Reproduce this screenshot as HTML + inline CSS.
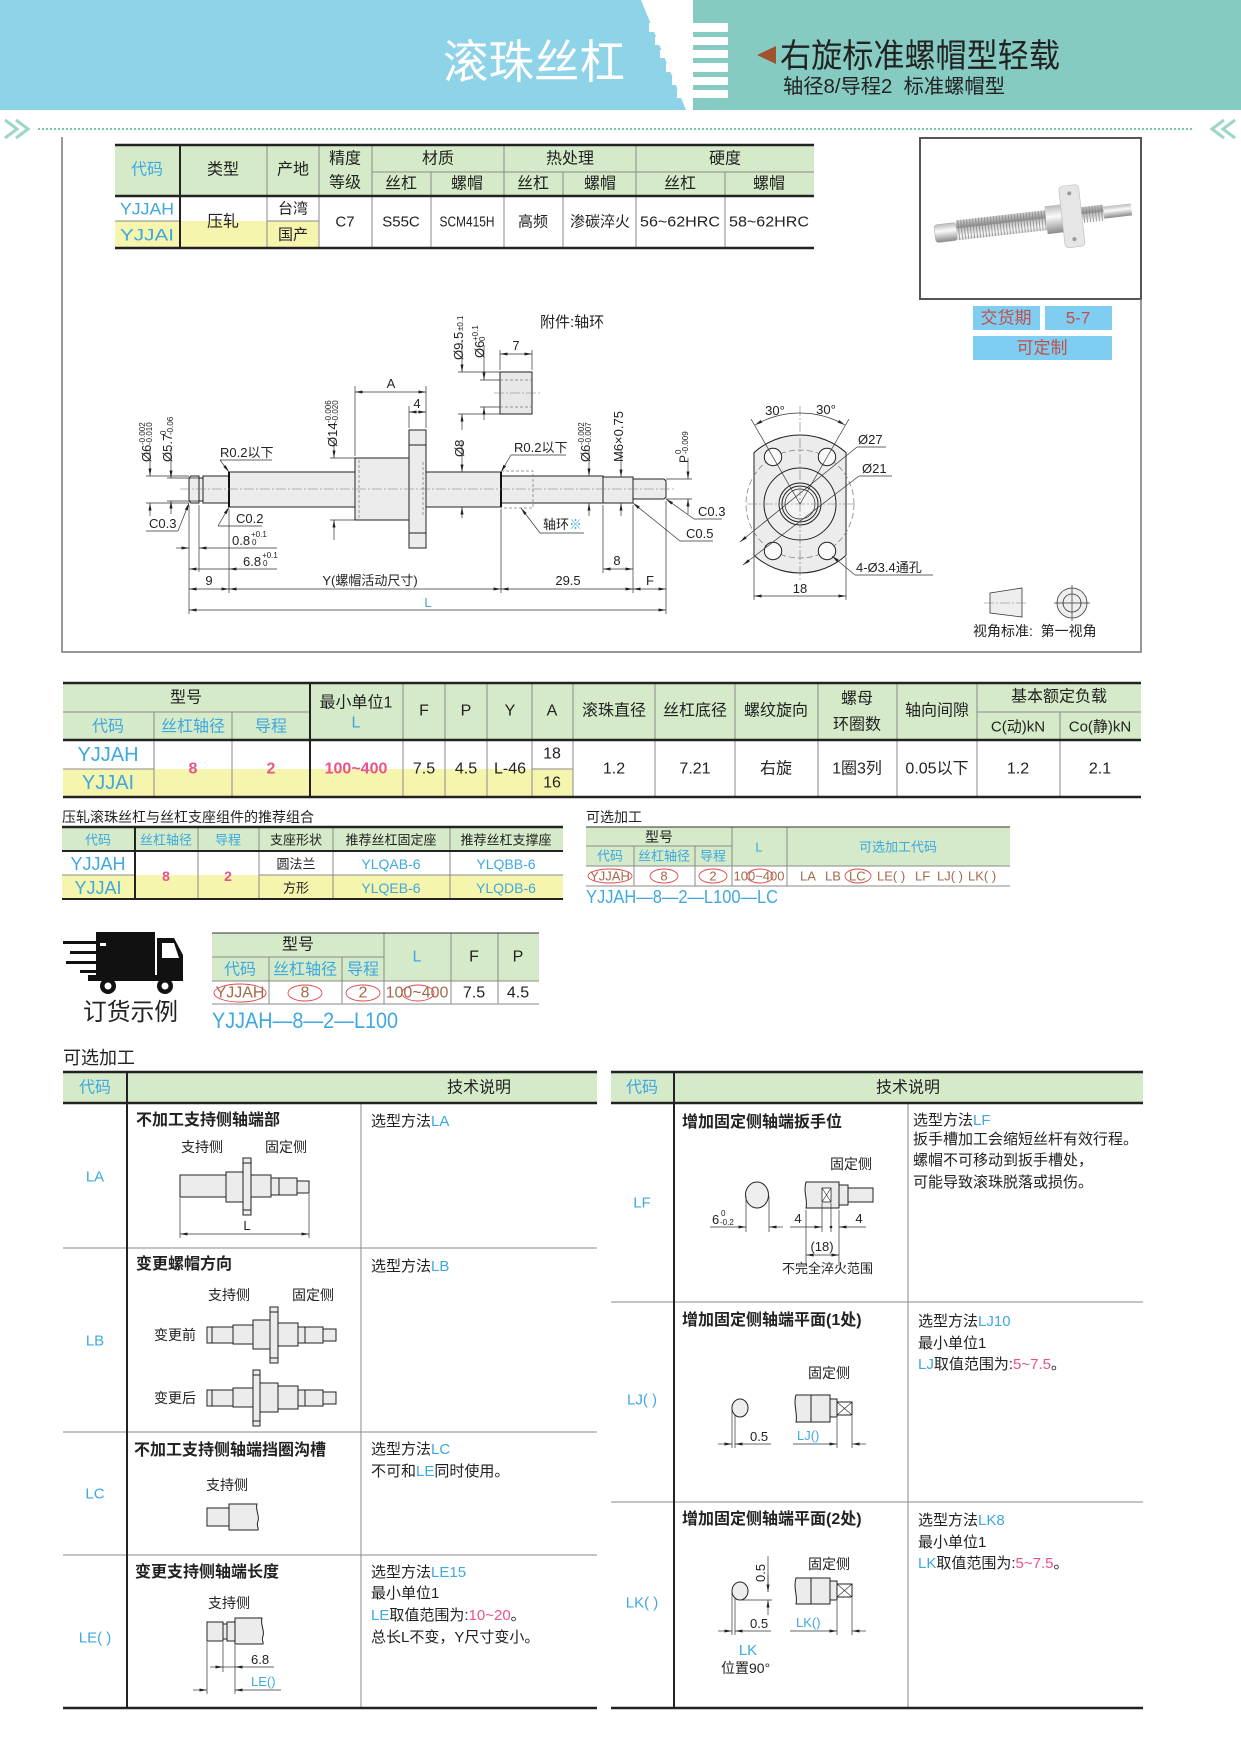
<!DOCTYPE html>
<html><head><meta charset="utf-8">
<style>
html,body{margin:0;padding:0;background:#fff;}
svg{display:block;}
text{font-family:"Liberation Sans","Noto Sans CJK SC",sans-serif;fill:#222;font-size:15px;}
.c{text-anchor:middle;}
.m{dominant-baseline:central;}
.bl{fill:#3ea8e0;}
.pk{fill:#e8528e;}
.br{fill:#a26a4c;}
.rd{fill:#c0504d;}
.wh{fill:#fff;}
.bd{font-weight:bold;font-size:16px;}
.pre{white-space:pre;}
.sh{fill:#ececec;stroke:#222;stroke-width:1;}
.dm{stroke:#333;stroke-width:0.7;fill:none;}
.cl{stroke:#777;stroke-width:0.6;stroke-dasharray:10,2,2,2;fill:none;}
.hd{stroke:#777;stroke-width:0.7;stroke-dasharray:3,2;fill:none;}
.g{stroke:#8a8a8a;stroke-width:1;}
.k{stroke:#222;stroke-width:2.5;}
.kv{stroke:#222;stroke-width:2;}
.el{fill:none;stroke:#e04848;stroke-width:0.9;}
.d13 text, text.d13{font-size:13px;}
</style></head><body>
<svg width="1241" height="1755" viewBox="0 0 1241 1755" xmlns="http://www.w3.org/2000/svg">
<defs>
<marker id="ar" viewBox="0 0 10 4" refX="10" refY="2" markerWidth="8" markerHeight="3" markerUnits="userSpaceOnUse" orient="auto-start-reverse"><path d="M0,0L10,2L0,4z" fill="#222"/></marker>
<linearGradient id="sg" x1="0" y1="0" x2="0" y2="1"><stop offset="0" stop-color="#bbb"/><stop offset="0.4" stop-color="#fafafa"/><stop offset="1" stop-color="#8a8a8a"/></linearGradient>
<pattern id="th" width="3" height="20" patternUnits="userSpaceOnUse"><rect width="3" height="20" fill="url(#sg)"/><line x1="1" y1="0" x2="1" y2="20" stroke="#888" stroke-width="0.8"/></pattern>
</defs>

<!-- HEADER -->
<rect x="0" y="0" width="1241" height="110" fill="#86cbc1"/>
<polygon points="0,0 641,0 686,110 0,110" fill="#8fd3e8"/>
<polygon points="641,0 693,0 693,110 686,110" fill="#fff"/>
<g fill="#fff">
<rect x="649" y="23" width="79" height="9"/>
<rect x="655" y="37" width="73" height="8"/>
<rect x="660" y="50" width="68" height="8"/>
<rect x="666" y="63" width="62" height="9"/>
<rect x="672" y="77" width="56" height="8"/>
<rect x="677" y="90" width="51" height="8"/>
</g>
<text x="443" y="78" class="wh" style="font-size:46px" textLength="182" lengthAdjust="spacingAndGlyphs">滚珠丝杠</text>
<polygon points="757,55 776,46 776,64" fill="#a0522d"/>
<text x="780" y="67" style="font-size:33px" textLength="280" lengthAdjust="spacingAndGlyphs">右旋标准螺帽型轻载</text>
<text x="783" y="93" class="pre" style="font-size:20px" textLength="222" lengthAdjust="spacingAndGlyphs">轴径8/导程2  标准螺帽型</text>

<line x1="38" y1="129" x2="1193" y2="129" stroke="#7cc4b4" stroke-width="2" stroke-dasharray="2,2"/>
<g fill="none" stroke="#9bd6c8" stroke-width="3">
<polyline points="5,120 17,129 5,138"/><polyline points="16,120 28,129 16,138"/>
<polyline points="1224,120 1212,129 1224,138"/><polyline points="1235,120 1223,129 1235,138"/>
</g>

<!-- TOP TABLE -->
<rect x="115" y="145" width="699" height="51" fill="#d4eac8"/>
<rect x="115" y="221" width="204" height="27" fill="#f5f5ad"/>
<g class="g">
<line x1="372" y1="172" x2="814" y2="172"/>
<line x1="115" y1="221" x2="180" y2="221"/>
<line x1="267" y1="221" x2="319" y2="221"/>
<line x1="267" y1="145" x2="267" y2="248"/>
<line x1="319" y1="145" x2="319" y2="248"/>
<line x1="372" y1="145" x2="372" y2="248"/>
<line x1="431" y1="172" x2="431" y2="248"/>
<line x1="504" y1="145" x2="504" y2="248"/>
<line x1="563" y1="172" x2="563" y2="248"/>
<line x1="636" y1="145" x2="636" y2="248"/>
<line x1="725" y1="172" x2="725" y2="248"/>
</g>
<line x1="180" y1="145" x2="180" y2="248" class="kv"/>
<line x1="115" y1="145" x2="814" y2="145" class="k"/>
<line x1="115" y1="196" x2="814" y2="196" class="k"/>
<line x1="115" y1="248" x2="814" y2="248" class="k"/>
<g>
<text x="147" y="170" class="c m bl" style="font-size:16px">代码</text>
<text x="223" y="170" class="c m" style="font-size:16px">类型</text>
<text x="293" y="170" class="c m" style="font-size:16px">产地</text>
<text x="345" y="159" class="c m" style="font-size:16px">精度</text>
<text x="345" y="183" class="c m" style="font-size:16px">等级</text>
<text x="438" y="159" class="c m" style="font-size:16px">材质</text>
<text x="570" y="159" class="c m" style="font-size:16px">热处理</text>
<text x="725" y="159" class="c m" style="font-size:16px">硬度</text>
<text x="401" y="184" class="c m" style="font-size:16px">丝杠</text>
<text x="467" y="184" class="c m" style="font-size:16px">螺帽</text>
<text x="533" y="184" class="c m" style="font-size:16px">丝杠</text>
<text x="600" y="184" class="c m" style="font-size:16px">螺帽</text>
<text x="680" y="184" class="c m" style="font-size:16px">丝杠</text>
<text x="769" y="184" class="c m" style="font-size:16px">螺帽</text>
</g>
<text x="147" y="209" class="c m bl" style="font-size:17px" textLength="54" lengthAdjust="spacingAndGlyphs">YJJAH</text>
<text x="147" y="235" class="c m bl" style="font-size:17px" textLength="54" lengthAdjust="spacingAndGlyphs">YJJAI</text>
<text x="223" y="222" class="c m" style="font-size:16px">压轧</text>
<text x="293" y="209" class="c m" style="font-size:15px">台湾</text>
<text x="293" y="235" class="c m" style="font-size:15px">国产</text>
<text x="345" y="222" class="c m">C7</text>
<text x="401" y="222" class="c m">S55C</text>
<text x="467" y="222" class="c m" textLength="55" lengthAdjust="spacingAndGlyphs">SCM415H</text>
<text x="533" y="222" class="c m">高频</text>
<text x="600" y="222" class="c m">渗碳淬火</text>
<text x="680" y="222" class="c m" textLength="80" lengthAdjust="spacingAndGlyphs">56~62HRC</text>
<text x="769" y="222" class="c m" textLength="80" lengthAdjust="spacingAndGlyphs">58~62HRC</text>

<!-- PRODUCT IMAGE BOX -->
<rect x="920" y="138" width="221" height="161" fill="#fff" stroke="#555" stroke-width="2"/>
<g transform="rotate(-6.5 1030 220)">
<rect x="934" y="214" width="22" height="18" rx="3" fill="url(#sg)" stroke="#aaa" stroke-width="0.5"/>
<rect x="956" y="212" width="102" height="20" fill="url(#th)"/>
<rect x="1046" y="208" width="16" height="28" fill="url(#sg)"/>
<rect x="1062" y="190" width="20" height="62" rx="4" fill="#e6e6e6" stroke="#bbb" stroke-width="0.6"/>
<circle cx="1072" cy="198" r="2" fill="#999"/><circle cx="1072" cy="244" r="2" fill="#999"/>
<rect x="1082" y="213" width="22" height="16" fill="url(#th)"/>
<rect x="1104" y="215" width="28" height="12" fill="url(#sg)"/>
</g>
<rect x="973" y="306" width="67" height="24" fill="#7fcdf0"/>
<rect x="1045" y="306" width="67" height="24" fill="#7fcdf0"/>
<rect x="973" y="336" width="139" height="24" fill="#7fcdf0"/>
<text x="1006" y="318" class="c m rd" style="font-size:17px">交货期</text>
<text x="1078" y="318" class="c m rd" style="font-size:17px">5-7</text>
<text x="1042" y="348" class="c m rd" style="font-size:17px">可定制</text>

<!-- FRAME -->
<polyline points="62,137 62,652 1141,652 1141,299" fill="none" stroke="#777" stroke-width="1.5"/>

<!-- MAIN DRAWING -->
<g class="d13">
<path class="sh" d="M191,476H199V503H191L189,501V478Z"/>
<rect class="sh" x="199" y="478" width="4" height="23"/>
<rect class="sh" x="203" y="476" width="26" height="27"/>
<rect class="sh" x="229" y="472" width="126" height="35"/>
<rect class="sh" x="355" y="458" width="54" height="62"/>
<rect class="sh" x="409" y="430" width="17" height="118"/>
<line x1="409" y1="445" x2="426" y2="445" stroke="#222"/>
<line x1="409" y1="533" x2="426" y2="533" stroke="#222"/>
<rect class="sh" x="426" y="472" width="75" height="35"/>
<rect class="sh" x="501" y="476" width="102" height="27"/>
<rect class="sh" x="603" y="477" width="30" height="26"/>
<path class="sh" d="M633,479H664L666,481V497L664,499H633Z"/>
<line x1="229" y1="472" x2="229" y2="507" stroke="#111" stroke-width="2"/>
<line x1="501" y1="472" x2="501" y2="507" stroke="#111" stroke-width="2"/>
<line class="hd" x1="359" y1="460" x2="359" y2="518"/>
<line class="hd" x1="423" y1="462" x2="423" y2="516"/>
<path class="hd" d="M501,471H533V508H501"/>
<line x1="180" y1="489" x2="676" y2="489" class="cl"/>

<path class="dm" d="M146,476H189M146,503H189M167,478H199M167,501H199"/>
<line class="dm" x1="150" y1="448" x2="150" y2="476" marker-end="url(#ar)"/>
<line class="dm" x1="150" y1="516" x2="150" y2="503" marker-end="url(#ar)"/>
<line class="dm" x1="171" y1="448" x2="171" y2="478" marker-end="url(#ar)"/>
<line class="dm" x1="171" y1="514" x2="171" y2="501" marker-end="url(#ar)"/>
<g transform="translate(151,462) rotate(-90)"><text x="0" y="0" style="font-size:13px">Ø6</text><text x="17" y="-6" style="font-size:8px">-0.002</text><text x="17" y="1" style="font-size:8px">-0.010</text></g>
<g transform="translate(172,462) rotate(-90)"><text x="0" y="0" style="font-size:13px">Ø5.7</text><text x="27" y="-6" style="font-size:8px">0</text><text x="27" y="1" style="font-size:8px">-0.06</text></g>
<path class="dm" d="M330,458H355M330,520H355"/>
<line class="dm" x1="334" y1="440" x2="334" y2="458" marker-end="url(#ar)"/>
<line class="dm" x1="334" y1="540" x2="334" y2="520" marker-end="url(#ar)"/>
<g transform="translate(337,447) rotate(-90)"><text x="0" y="0" style="font-size:13px">Ø14</text><text x="24" y="-6" style="font-size:8px">-0.006</text><text x="24" y="1" style="font-size:8px">-0.020</text></g>
<line class="dm" x1="462" y1="442" x2="462" y2="472" marker-end="url(#ar)"/>
<line class="dm" x1="462" y1="518" x2="462" y2="507" marker-end="url(#ar)"/>
<g transform="translate(464,457) rotate(-90)"><text x="0" y="0" style="font-size:13px">Ø8</text></g>
<line class="dm" x1="589" y1="450" x2="589" y2="476" marker-end="url(#ar)"/>
<line class="dm" x1="589" y1="516" x2="589" y2="503" marker-end="url(#ar)"/>
<g transform="translate(590,462) rotate(-90)"><text x="0" y="0" style="font-size:13px">Ø6</text><text x="17" y="-6" style="font-size:8px">-0.002</text><text x="17" y="1" style="font-size:8px">-0.007</text></g>
<line class="dm" x1="621" y1="450" x2="621" y2="477" marker-end="url(#ar)"/>
<line class="dm" x1="621" y1="516" x2="621" y2="503" marker-end="url(#ar)"/>
<g transform="translate(623,462) rotate(-90)"><text x="0" y="0" style="font-size:13px">M6×0.75</text></g>
<path class="dm" d="M666,479H692M666,499H692"/>
<line class="dm" x1="688" y1="458" x2="688" y2="479" marker-end="url(#ar)"/>
<line class="dm" x1="688" y1="514" x2="688" y2="499" marker-end="url(#ar)"/>
<g transform="translate(688,463) rotate(-90)"><text x="0" y="0" style="font-size:12px">P</text><text x="9" y="-7" style="font-size:8px">0</text><text x="9" y="0" style="font-size:8px">-0.009</text></g>
<path class="dm" d="M355,456V386M426,428V386M409,428V406"/>
<line class="dm" x1="355" y1="392" x2="426" y2="392" marker-start="url(#ar)" marker-end="url(#ar)"/>
<text x="391" y="388" class="c">A</text>
<line class="dm" x1="409" y1="412" x2="426" y2="412" marker-start="url(#ar)" marker-end="url(#ar)"/>
<text x="417" y="408" class="c">4</text>
<path class="dm" d="M189,505V614M229,509V593M501,509V593M633,505V593M666,501V614M199,505V572M603,505V573"/>
<line class="dm" x1="189" y1="589" x2="229" y2="589" marker-start="url(#ar)" marker-end="url(#ar)"/>
<line class="dm" x1="229" y1="589" x2="501" y2="589" marker-start="url(#ar)" marker-end="url(#ar)"/>
<line class="dm" x1="501" y1="589" x2="633" y2="589" marker-start="url(#ar)" marker-end="url(#ar)"/>
<line class="dm" x1="633" y1="589" x2="666" y2="589" marker-start="url(#ar)" marker-end="url(#ar)"/>
<line class="dm" x1="189" y1="610" x2="666" y2="610" marker-start="url(#ar)" marker-end="url(#ar)"/>
<text x="209" y="585" class="c">9</text>
<text x="370" y="585" class="c">Y(螺帽活动尺寸)</text>
<text x="568" y="585" class="c">29.5</text>
<text x="650" y="585" class="c">F</text>
<text x="428" y="607" class="c bl">L</text>
<line class="dm" x1="176" y1="548" x2="189" y2="548" marker-end="url(#ar)"/>
<line class="dm" x1="277" y1="548" x2="199" y2="548" marker-end="url(#ar)"/>
<text x="232" y="545">0.8</text><text x="251" y="537" style="font-size:8px">+0.1</text><text x="252" y="545" style="font-size:8px">0</text>
<line class="dm" x1="189" y1="569" x2="199" y2="569" marker-start="url(#ar)"/>
<line class="dm" x1="277" y1="569" x2="229" y2="569" marker-end="url(#ar)"/>
<line class="dm" x1="199" y1="569" x2="229" y2="569"/>
<text x="243" y="566">6.8</text><text x="262" y="558" style="font-size:8px">+0.1</text><text x="263" y="566" style="font-size:8px">0</text>
<line class="dm" x1="603" y1="569" x2="633" y2="569" marker-start="url(#ar)" marker-end="url(#ar)"/>
<text x="617" y="565" class="c">8</text>
<text x="220" y="457">R0.2以下</text>
<path class="dm" d="M272,460H220"/><line class="dm" x1="220" y1="460" x2="229" y2="472" marker-end="url(#ar)"/>
<text x="236" y="523">C0.2</text>
<path class="dm" d="M218,526H262"/><line class="dm" x1="218" y1="526" x2="229" y2="507" marker-end="url(#ar)"/>
<text x="149" y="528">C0.3</text>
<path class="dm" d="M146,531H178"/><line class="dm" x1="178" y1="531" x2="189" y2="503" marker-end="url(#ar)"/>
<text x="514" y="452">R0.2以下</text>
<path class="dm" d="M511,455H566"/><line class="dm" x1="511" y1="455" x2="501" y2="472" marker-end="url(#ar)"/>
<text x="543" y="529">轴环<tspan class="bl">※</tspan></text>
<path class="dm" d="M540,533H584"/><line class="dm" x1="540" y1="533" x2="521" y2="508" marker-end="url(#ar)"/>
<text x="698" y="516">C0.3</text>
<path class="dm" d="M694,519H722"/><line class="dm" x1="694" y1="519" x2="666" y2="499" marker-end="url(#ar)"/>
<text x="686" y="538">C0.5</text>
<path class="dm" d="M680,541H713"/><line class="dm" x1="680" y1="541" x2="633" y2="503" marker-end="url(#ar)"/>

<text x="540" y="327" style="font-size:15px">附件:轴环</text>
<rect x="500" y="372" width="32" height="42" fill="#e8e8e8" stroke="#222"/>
<path class="hd" d="M500,380H532M500,407H532"/>
<line class="cl" x1="494" y1="393" x2="540" y2="393"/>
<path class="dm" d="M458,372H500M458,414H500M480,380H500M480,407H500M500,370V350M532,370V350"/>
<line class="dm" x1="462" y1="340" x2="462" y2="372" marker-end="url(#ar)"/>
<line class="dm" x1="462" y1="430" x2="462" y2="414" marker-end="url(#ar)"/>
<line class="dm" x1="484" y1="345" x2="484" y2="380" marker-end="url(#ar)"/>
<line class="dm" x1="484" y1="420" x2="484" y2="407" marker-end="url(#ar)"/>
<line class="dm" x1="500" y1="354" x2="532" y2="354" marker-start="url(#ar)" marker-end="url(#ar)"/>
<text x="516" y="350" class="c">7</text>
<g transform="translate(463,360) rotate(-90)"><text x="0" y="0" style="font-size:13px">Ø9.5</text><text x="29" y="0" style="font-size:8px">±0.1</text></g>
<g transform="translate(484,358) rotate(-90)"><text x="0" y="0" style="font-size:13px">Ø6</text><text x="17" y="-6" style="font-size:8px">+0.1</text><text x="17" y="1" style="font-size:8px">0</text></g>

<!-- END VIEW -->
<path class="sh" d="M754,452.6A69,69 0 0 1 846,452.6V555.4A69,69 0 0 1 754,555.4Z"/>
<circle cx="800" cy="504" r="54" fill="none" stroke="#777" stroke-width="0.7" stroke-dasharray="6,3"/>
<circle cx="800" cy="504" r="36" fill="#eee" stroke="#222"/>
<circle cx="800" cy="504" r="21" fill="#eee" stroke="#222"/>
<circle cx="800" cy="504" r="18" fill="none" stroke="#222"/>
<circle cx="800" cy="504" r="15" fill="#f4f4f4" stroke="#222" stroke-width="0.7"/>
<g fill="#fafafa" stroke="#222">
<circle cx="773" cy="457" r="8.7"/><circle cx="827" cy="457" r="8.7"/>
<circle cx="773" cy="551" r="8.7"/><circle cx="827" cy="551" r="8.7"/>
</g>
<line class="cl" x1="747" y1="504" x2="853" y2="504"/>
<line class="cl" x1="800" y1="406" x2="800" y2="580"/>
<path class="dm" d="M800,504L751,419M800,504L849,419"/>
<path class="dm" d="M755,425A91,91 0 0 1 800,413" marker-start="url(#ar)"/>
<path class="dm" d="M845,425A91,91 0 0 0 800,413" marker-start="url(#ar)"/>
<text x="775" y="415" class="c">30°</text>
<text x="826" y="414" class="c">30°</text>
<line class="dm" x1="740" y1="542" x2="857" y2="447" marker-start="url(#ar)"/>
<path class="dm" d="M857,447H886"/>
<text x="858" y="444">Ø27</text>
<line class="dm" x1="743" y1="565" x2="859" y2="476" marker-start="url(#ar)"/>
<path class="dm" d="M859,476H892"/>
<text x="862" y="473">Ø21</text>
<line class="dm" x1="855" y1="575" x2="832" y2="556" marker-end="url(#ar)"/>
<path class="dm" d="M855,575H933"/>
<text x="856" y="572">4-Ø3.4通孔</text>
<path class="dm" d="M754,557V600M846,557V600"/>
<line class="dm" x1="754" y1="596" x2="846" y2="596" marker-start="url(#ar)" marker-end="url(#ar)"/>
<text x="800" y="593" class="c">18</text>

<polygon points="990,593 1022,588 1022,617 990,613" fill="#eee" stroke="#333" stroke-width="0.8"/>
<line class="cl" x1="984" y1="603" x2="1028" y2="603"/>
<circle cx="1072" cy="603" r="15" fill="#eee" stroke="#333" stroke-width="0.8"/>
<circle cx="1072" cy="603" r="9" fill="none" stroke="#333" stroke-width="0.8"/>
<path class="dm" d="M1054,603H1090M1072,585V621"/>
<text x="973" y="636" class="pre" style="font-size:14px">视角标准:  第一视角</text>
</g>

<!-- MAIN TABLE -->
<rect x="63" y="683" width="1078" height="57" fill="#d4eac8"/>
<rect x="63" y="769" width="510" height="28" fill="#f5f5ad"/>
<g class="g">
<line x1="63" y1="712" x2="310" y2="712"/>
<line x1="977" y1="712" x2="1141" y2="712"/>
<line x1="532" y1="769" x2="573" y2="769"/>
<line x1="63" y1="769" x2="154" y2="769"/>
<line x1="154" y1="712" x2="154" y2="797"/>
<line x1="232" y1="712" x2="232" y2="797"/>
<line x1="403" y1="683" x2="403" y2="797"/>
<line x1="445" y1="683" x2="445" y2="797"/>
<line x1="487" y1="683" x2="487" y2="797"/>
<line x1="532" y1="683" x2="532" y2="797"/>
<line x1="573" y1="683" x2="573" y2="797"/>
<line x1="655" y1="683" x2="655" y2="797"/>
<line x1="735" y1="683" x2="735" y2="797"/>
<line x1="818" y1="683" x2="818" y2="797"/>
<line x1="897" y1="683" x2="897" y2="797"/>
<line x1="977" y1="683" x2="977" y2="797"/>
<line x1="1060" y1="712" x2="1060" y2="797"/>
</g>
<line x1="310" y1="683" x2="310" y2="797" class="kv"/>
<line x1="63" y1="683" x2="1141" y2="683" class="k"/>
<line x1="63" y1="740" x2="1141" y2="740" class="k"/>
<line x1="63" y1="797" x2="1141" y2="797" class="k"/>
<g>
<text x="186" y="698" class="c m" style="font-size:16px">型号</text>
<text x="108" y="727" class="c m bl" style="font-size:16px">代码</text>
<text x="193" y="727" class="c m bl" style="font-size:16px">丝杠轴径</text>
<text x="271" y="727" class="c m bl" style="font-size:16px">导程</text>
<text x="356" y="703" class="c m" style="font-size:16px">最小单位1</text>
<text x="356" y="723" class="c m bl" style="font-size:16px">L</text>
<text x="424" y="711" class="c m" style="font-size:16px">F</text>
<text x="466" y="711" class="c m" style="font-size:16px">P</text>
<text x="510" y="711" class="c m" style="font-size:16px">Y</text>
<text x="552" y="711" class="c m" style="font-size:16px">A</text>
<text x="614" y="711" class="c m" style="font-size:16px">滚珠直径</text>
<text x="695" y="711" class="c m" style="font-size:16px">丝杠底径</text>
<text x="776" y="711" class="c m" style="font-size:16px">螺纹旋向</text>
<text x="857" y="699" class="c m" style="font-size:16px">螺母</text>
<text x="857" y="725" class="c m" style="font-size:16px">环圈数</text>
<text x="937" y="711" class="c m" style="font-size:16px">轴向间隙</text>
<text x="1059" y="697" class="c m" style="font-size:16px">基本额定负载</text>
<text x="1018" y="727" class="c m" style="font-size:15px">C(动)kN</text>
<text x="1100" y="727" class="c m" style="font-size:15px">Co(静)kN</text>
</g>
<text x="108" y="755" class="c m bl" style="font-size:20px">YJJAH</text>
<text x="108" y="783" class="c m bl" style="font-size:20px">YJJAI</text>
<text x="193" y="769" class="c m pk" style="font-size:16px;font-weight:bold">8</text>
<text x="271" y="769" class="c m pk" style="font-size:16px;font-weight:bold">2</text>
<text x="356" y="769" class="c m pk" style="font-size:16px;font-weight:bold">100~400</text>
<text x="424" y="769" class="c m" style="font-size:16px">7.5</text>
<text x="466" y="769" class="c m" style="font-size:16px">4.5</text>
<text x="510" y="769" class="c m" style="font-size:16px">L-46</text>
<text x="552" y="754" class="c m" style="font-size:16px">18</text>
<text x="552" y="783" class="c m" style="font-size:16px">16</text>
<text x="614" y="769" class="c m" style="font-size:16px">1.2</text>
<text x="695" y="769" class="c m" style="font-size:16px">7.21</text>
<text x="776" y="769" class="c m" style="font-size:16px">右旋</text>
<text x="857" y="769" class="c m" style="font-size:16px">1圈3列</text>
<text x="937" y="769" class="c m" style="font-size:16px">0.05以下</text>
<text x="1018" y="769" class="c m" style="font-size:16px">1.2</text>
<text x="1100" y="769" class="c m" style="font-size:16px">2.1</text>

<!-- COMBO TABLE -->
<text x="62" y="822" style="font-size:14px">压轧滚珠丝杠与丝杠支座组件的推荐组合</text>
<rect x="62" y="827" width="501" height="24" fill="#d4eac8"/>
<rect x="62" y="875" width="501" height="24" fill="#f5f5ad"/>
<g class="g">
<line x1="62" y1="875" x2="135" y2="875"/>
<line x1="259" y1="875" x2="563" y2="875"/>
<line x1="198" y1="827" x2="198" y2="899"/>
<line x1="259" y1="827" x2="259" y2="899"/>
<line x1="333" y1="827" x2="333" y2="899"/>
<line x1="450" y1="827" x2="450" y2="899"/>
</g>
<line x1="135" y1="827" x2="135" y2="899" class="kv"/>
<line x1="62" y1="827" x2="563" y2="827" class="k"/>
<line x1="62" y1="851" x2="563" y2="851" class="kv"/>
<line x1="62" y1="899" x2="563" y2="899" class="kv"/>
<text x="98" y="840" class="c m bl" style="font-size:13px">代码</text>
<text x="166" y="840" class="c m bl" style="font-size:13px">丝杠轴径</text>
<text x="228" y="840" class="c m bl" style="font-size:13px">导程</text>
<text x="296" y="840" class="c m" style="font-size:13px">支座形状</text>
<text x="391" y="840" class="c m" style="font-size:13px">推荐丝杠固定座</text>
<text x="506" y="840" class="c m" style="font-size:13px">推荐丝杠支撑座</text>
<text x="98" y="864" class="c m bl" style="font-size:18px">YJJAH</text>
<text x="98" y="888" class="c m bl" style="font-size:18px">YJJAI</text>
<text x="166" y="876" class="c m pk" style="font-size:14px;font-weight:bold">8</text>
<text x="228" y="876" class="c m pk" style="font-size:14px;font-weight:bold">2</text>
<text x="296" y="864" class="c m" style="font-size:13px">圆法兰</text>
<text x="296" y="888" class="c m" style="font-size:13px">方形</text>
<text x="391" y="864" class="c m bl" style="font-size:14px">YLQAB-6</text>
<text x="506" y="864" class="c m bl" style="font-size:14px">YLQBB-6</text>
<text x="391" y="888" class="c m bl" style="font-size:14px">YLQEB-6</text>
<text x="506" y="888" class="c m bl" style="font-size:14px">YLQDB-6</text>

<!-- SMALL OPTION TABLE -->
<text x="586" y="822" style="font-size:14px">可选加工</text>
<rect x="586" y="827" width="424" height="39" fill="#d4eac8"/>
<g class="g">
<line x1="586" y1="846" x2="732" y2="846"/>
<line x1="634" y1="846" x2="634" y2="886"/>
<line x1="695" y1="846" x2="695" y2="886"/>
<line x1="732" y1="827" x2="732" y2="886"/>
<line x1="787" y1="827" x2="787" y2="886"/>
<line x1="586" y1="866" x2="1010" y2="866"/>
<line x1="586" y1="886" x2="1010" y2="886"/>
</g>
<line x1="586" y1="827" x2="1010" y2="827" stroke="#333" stroke-width="1"/>
<text x="659" y="837" class="c m" style="font-size:14px">型号</text>
<text x="610" y="856" class="c m bl" style="font-size:13px">代码</text>
<text x="664" y="856" class="c m bl" style="font-size:13px">丝杠轴径</text>
<text x="713" y="856" class="c m bl" style="font-size:13px">导程</text>
<text x="759" y="847" class="c m bl" style="font-size:13px">L</text>
<text x="898" y="847" class="c m bl" style="font-size:13px">可选加工代码</text>
<text x="610" y="876" class="c m br" style="font-size:13px">YJJAH</text>
<ellipse cx="610" cy="876" rx="22" ry="7" class="el"/>
<text x="664" y="876" class="c m br" style="font-size:13px">8</text>
<ellipse cx="664" cy="876" rx="14" ry="7" class="el"/>
<text x="713" y="876" class="c m br" style="font-size:13px">2</text>
<ellipse cx="713" cy="876" rx="14" ry="7" class="el"/>
<text x="759" y="876" class="c m br" style="font-size:13px">100~400</text>
<ellipse cx="760" cy="876" rx="13" ry="7" class="el"/>
<text x="800" y="876" class="m br" style="font-size:13px">LA</text>
<text x="825" y="876" class="m br" style="font-size:13px">LB</text>
<text x="849" y="876" class="m br" style="font-size:13px">LC</text>
<text x="877" y="876" class="m br" style="font-size:13px">LE( )</text>
<text x="915" y="876" class="m br" style="font-size:13px">LF</text>
<text x="937" y="876" class="m br" style="font-size:13px">LJ( )</text>
<text x="968" y="876" class="m br" style="font-size:13px">LK( )</text>
<ellipse cx="858" cy="876" rx="13" ry="7" class="el"/>
<text x="586" y="903" class="bl" style="font-size:18px" textLength="192" lengthAdjust="spacingAndGlyphs">YJJAH—8—2—L100—LC</text>

<!-- ORDER EXAMPLE -->
<g fill="#111">
<rect x="96" y="932" width="59" height="44"/>
<path d="M157,938H174L183,955V978H157Z"/>
<rect x="88" y="975" width="95" height="6"/>
<rect x="63" y="941" width="48" height="3"/>
<rect x="70" y="951" width="40" height="3"/>
<rect x="66" y="961" width="48" height="3"/>
<rect x="80" y="970" width="30" height="3"/>
<circle cx="108" cy="986" r="8"/><circle cx="165" cy="986" r="8"/>
</g>
<rect x="100" y="943" width="6" height="3" fill="#fff"/>
<path d="M162,943H174L179,958H162Z" fill="#fff"/>
<circle cx="108" cy="986" r="3.5" fill="#fff"/><circle cx="165" cy="986" r="3.5" fill="#fff"/>
<text x="83" y="1020" style="font-size:24px" textLength="95" lengthAdjust="spacingAndGlyphs">订货示例</text>

<rect x="212" y="933" width="327" height="48" fill="#d4eac8"/>
<g class="g">
<line x1="212" y1="957" x2="384" y2="957"/>
<line x1="269" y1="957" x2="269" y2="1004"/>
<line x1="342" y1="957" x2="342" y2="1004"/>
<line x1="384" y1="933" x2="384" y2="1004"/>
<line x1="451" y1="933" x2="451" y2="1004"/>
<line x1="498" y1="933" x2="498" y2="1004"/>
<line x1="212" y1="981" x2="539" y2="981"/>
<line x1="212" y1="1004" x2="539" y2="1004"/>
</g>
<line x1="212" y1="933" x2="539" y2="933" stroke="#333" stroke-width="1"/>
<text x="298" y="945" class="c m" style="font-size:16px">型号</text>
<text x="240" y="970" class="c m bl" style="font-size:16px">代码</text>
<text x="305" y="970" class="c m bl" style="font-size:16px">丝杠轴径</text>
<text x="363" y="970" class="c m bl" style="font-size:16px">导程</text>
<text x="417" y="957" class="c m bl" style="font-size:16px">L</text>
<text x="474" y="957" class="c m" style="font-size:16px">F</text>
<text x="518" y="957" class="c m" style="font-size:16px">P</text>
<text x="240" y="993" class="c m br" style="font-size:16px">YJJAH</text>
<ellipse cx="240" cy="993" rx="26" ry="9" class="el"/>
<text x="305" y="993" class="c m br" style="font-size:16px">8</text>
<ellipse cx="305" cy="993" rx="17" ry="8" class="el"/>
<text x="363" y="993" class="c m br" style="font-size:16px">2</text>
<ellipse cx="363" cy="993" rx="17" ry="8" class="el"/>
<text x="417" y="993" class="c m br" style="font-size:16px">100~400</text>
<ellipse cx="418" cy="993" rx="16" ry="8" class="el"/>
<text x="474" y="993" class="c m" style="font-size:16px">7.5</text>
<text x="518" y="993" class="c m" style="font-size:16px">4.5</text>
<text x="212" y="1028" class="bl" style="font-size:22px" textLength="186" lengthAdjust="spacingAndGlyphs">YJJAH—8—2—L100</text>

<!-- OPTIONAL PROCESSING -->
<text x="63" y="1064" style="font-size:18px">可选加工</text>
<rect x="63" y="1072" width="534" height="31" fill="#d4eac8"/>
<rect x="611" y="1072" width="532" height="31" fill="#d4eac8"/>
<g class="g">
<line x1="63" y1="1248" x2="597" y2="1248"/>
<line x1="63" y1="1432" x2="597" y2="1432"/>
<line x1="63" y1="1555" x2="597" y2="1555"/>
<line x1="361" y1="1103" x2="361" y2="1708"/>
<line x1="611" y1="1302" x2="1143" y2="1302"/>
<line x1="611" y1="1502" x2="1143" y2="1502"/>
<line x1="908" y1="1103" x2="908" y2="1708"/>
</g>
<line x1="127" y1="1072" x2="127" y2="1708" class="kv"/>
<line x1="674" y1="1072" x2="674" y2="1708" class="kv"/>
<line x1="63" y1="1072" x2="597" y2="1072" class="k"/>
<line x1="63" y1="1103" x2="597" y2="1103" class="k"/>
<line x1="63" y1="1708" x2="597" y2="1708" class="k"/>
<line x1="611" y1="1072" x2="1143" y2="1072" class="k"/>
<line x1="611" y1="1103" x2="1143" y2="1103" class="k"/>
<line x1="611" y1="1708" x2="1143" y2="1708" class="k"/>
<text x="95" y="1088" class="c m bl" style="font-size:16px">代码</text>
<text x="479" y="1088" class="c m" style="font-size:16px">技术说明</text>
<text x="642" y="1088" class="c m bl" style="font-size:16px">代码</text>
<text x="908" y="1088" class="c m" style="font-size:16px">技术说明</text>

<text x="95" y="1177" class="c m bl">LA</text>
<text x="95" y="1341" class="c m bl">LB</text>
<text x="95" y="1494" class="c m bl">LC</text>
<text x="95" y="1638" class="c m bl">LE( )</text>
<text x="642" y="1203" class="c m bl">LF</text>
<text x="642" y="1400" class="c m bl">LJ( )</text>
<text x="642" y="1603" class="c m bl">LK( )</text>

<text x="136" y="1125" class="bd">不加工支持侧轴端部</text>
<text x="136" y="1269" class="bd">变更螺帽方向</text>
<text x="134" y="1455" class="bd">不加工支持侧轴端挡圈沟槽</text>
<text x="135" y="1577" class="bd">变更支持侧轴端长度</text>
<text x="682" y="1127" class="bd">增加固定侧轴端扳手位</text>
<text x="682" y="1325" class="bd">增加固定侧轴端平面(1处)</text>
<text x="682" y="1524" class="bd">增加固定侧轴端平面(2处)</text>

<text x="371" y="1126">选型方法<tspan class="bl">LA</tspan></text>
<text x="371" y="1271">选型方法<tspan class="bl">LB</tspan></text>
<text x="371" y="1454">选型方法<tspan class="bl">LC</tspan></text>
<text x="371" y="1476">不可和<tspan class="bl">LE</tspan>同时使用。</text>
<text x="371" y="1577">选型方法<tspan class="bl">LE15</tspan></text>
<text x="371" y="1598">最小单位1</text>
<text x="371" y="1620"><tspan class="bl">LE</tspan>取值范围为:<tspan class="pk">10~20</tspan>。</text>
<text x="371" y="1642">总长L不变，Y尺寸变小。</text>

<text x="913" y="1125">选型方法<tspan class="bl">LF</tspan></text>
<text x="913" y="1144">扳手槽加工会缩短丝杆有效行程。</text>
<text x="913" y="1165">螺帽不可移动到扳手槽处，</text>
<text x="913" y="1187">可能导致滚珠脱落或损伤。</text>
<text x="918" y="1326">选型方法<tspan class="bl">LJ10</tspan></text>
<text x="918" y="1348">最小单位1</text>
<text x="918" y="1369"><tspan class="bl">LJ</tspan>取值范围为:<tspan class="pk">5~7.5</tspan>。</text>
<text x="918" y="1525">选型方法<tspan class="bl">LK8</tspan></text>
<text x="918" y="1547">最小单位1</text>
<text x="918" y="1568"><tspan class="bl">LK</tspan>取值范围为:<tspan class="pk">5~7.5</tspan>。</text>

<!-- LA drawing -->
<text x="181" y="1152" style="font-size:14px">支持侧</text>
<text x="265" y="1152" style="font-size:14px">固定侧</text>
<rect class="sh" x="180" y="1175" width="46" height="22"/>
<rect class="sh" x="226" y="1172" width="17" height="30"/>
<rect class="sh" x="243" y="1158" width="8" height="57"/>
<path d="M243,1163H251M243,1210H251" stroke="#222"/>
<rect class="sh" x="251" y="1175" width="20" height="22"/>
<rect class="sh" x="271" y="1178" width="8" height="17"/>
<rect class="sh" x="279" y="1178" width="18" height="17"/>
<rect class="sh" x="297" y="1181" width="12" height="12"/>
<path class="dm" d="M180,1198V1238M309,1194V1238"/>
<line class="dm" x1="180" y1="1234" x2="309" y2="1234" marker-start="url(#ar)" marker-end="url(#ar)"/>
<text x="247" y="1230" class="c" style="font-size:13px">L</text>

<!-- LB drawings -->
<text x="208" y="1300" style="font-size:14px">支持侧</text>
<text x="292" y="1300" style="font-size:14px">固定侧</text>
<text x="154" y="1340" style="font-size:14px">变更前</text>
<text x="154" y="1403" style="font-size:14px">变更后</text>
<rect class="sh" x="207" y="1327" width="5" height="16"/>
<rect class="sh" x="212" y="1327" width="21" height="16"/>
<rect class="sh" x="233" y="1325" width="20" height="19"/>
<rect class="sh" x="253" y="1320" width="17" height="29"/>
<rect class="sh" x="270" y="1307" width="8" height="56"/>
<path d="M270,1312H278M270,1358H278" stroke="#222"/>
<rect class="sh" x="278" y="1323" width="20" height="23"/>
<rect class="sh" x="298" y="1327" width="7" height="16"/>
<rect class="sh" x="305" y="1327" width="18" height="16"/>
<rect class="sh" x="323" y="1329" width="13" height="12"/>

<rect class="sh" x="207" y="1390" width="5" height="16"/>
<rect class="sh" x="212" y="1390" width="21" height="16"/>
<rect class="sh" x="233" y="1388" width="20" height="19"/>
<rect class="sh" x="253" y="1370" width="7" height="56"/>
<path d="M253,1375H260M253,1421H260" stroke="#222"/>
<rect class="sh" x="260" y="1383" width="18" height="29"/>
<rect class="sh" x="278" y="1386" width="20" height="23"/>
<rect class="sh" x="298" y="1390" width="7" height="16"/>
<rect class="sh" x="305" y="1390" width="18" height="16"/>
<rect class="sh" x="323" y="1392" width="13" height="12"/>

<!-- LC drawing -->
<text x="206" y="1490" style="font-size:14px">支持侧</text>
<rect class="sh" x="207" y="1508" width="22" height="18"/>
<path class="sh" d="M229,1504H257C255,1510 260,1516 258,1521C256,1526 259,1528 258,1530H229Z"/>

<!-- LE drawing -->
<text x="208" y="1608" style="font-size:14px">支持侧</text>
<rect class="sh" x="207" y="1622" width="16" height="19"/>
<rect class="sh" x="223" y="1624" width="4" height="15"/>
<rect class="sh" x="227" y="1622" width="8" height="19"/>
<path class="sh" d="M235,1618H262C260,1625 265,1630 263,1636C261,1640 264,1642 263,1644H235Z"/>
<path class="dm" d="M207,1642V1694M223,1642V1672M235,1645V1694"/>
<line class="dm" x1="210" y1="1667" x2="223" y2="1667" marker-end="url(#ar)"/>
<line class="dm" x1="274" y1="1667" x2="235" y2="1667" marker-end="url(#ar)"/>
<line class="dm" x1="223" y1="1667" x2="235" y2="1667"/>
<text x="251" y="1664" style="font-size:13px">6.8</text>
<line class="dm" x1="193" y1="1690" x2="207" y2="1690" marker-end="url(#ar)"/>
<line class="dm" x1="281" y1="1690" x2="235" y2="1690" marker-end="url(#ar)"/>
<text x="251" y="1686" class="bl" style="font-size:13px">LE()</text>

<!-- LF drawing -->
<text x="830" y="1169" style="font-size:14px">固定侧</text>
<ellipse cx="757" cy="1195" rx="11.5" ry="13" fill="#eee" stroke="#222"/>
<path class="dm" d="M746,1196V1232M769,1196V1232"/>
<line class="dm" x1="710" y1="1227" x2="746" y2="1227" marker-end="url(#ar)"/>
<line class="dm" x1="783" y1="1227" x2="769" y2="1227" marker-end="url(#ar)"/>
<text x="712" y="1224" style="font-size:13px">6</text><text x="721" y="1216" style="font-size:8px">0</text><text x="720" y="1225" style="font-size:8px">-0.2</text>
<path class="sh" d="M806,1182H839V1208H806C808,1200 803,1192 806,1182Z"/>
<rect x="822" y="1188" width="9" height="14" fill="#fff" stroke="#222" stroke-width="0.8"/>
<path d="M822,1188L831,1202M831,1188L822,1202" stroke="#222" stroke-width="0.6"/>
<rect class="sh" x="839" y="1185" width="9" height="20"/>
<rect class="sh" x="848" y="1188" width="25" height="14"/>
<path class="dm" d="M806,1210V1266M822,1203V1232M831,1203V1232M839,1210V1266"/>
<line class="dm" x1="790" y1="1227" x2="822" y2="1227" marker-end="url(#ar)"/>
<line class="dm" x1="866" y1="1227" x2="839" y2="1227" marker-end="url(#ar)"/>
<text x="798" y="1223" class="c" style="font-size:13px">4</text>
<text x="859" y="1223" class="c" style="font-size:13px">4</text>
<circle cx="831" cy="1227" r="1.3" fill="#222"/>
<line class="dm" x1="806" y1="1255" x2="839" y2="1255" marker-start="url(#ar)" marker-end="url(#ar)"/>
<text x="822" y="1251" class="c" style="font-size:13px">(18)</text>
<text x="782" y="1273" style="font-size:13px">不完全淬火范围</text>

<!-- LJ drawing -->
<text x="808" y="1378" style="font-size:14px">固定侧</text>
<ellipse cx="740" cy="1408" rx="8" ry="9" fill="#eee" stroke="#222"/>
<path class="dm" d="M732,1408V1448M735,1415V1448"/>
<line class="dm" x1="718" y1="1444" x2="732" y2="1444" marker-end="url(#ar)"/>
<line class="dm" x1="771" y1="1444" x2="735" y2="1444" marker-end="url(#ar)"/>
<text x="750" y="1441" style="font-size:13px">0.5</text>
<path class="sh" d="M796,1395H830V1422H796C798,1414 793,1405 796,1395Z"/>
<line x1="811" y1="1395" x2="811" y2="1422" stroke="#222"/>
<rect class="sh" x="830" y="1399" width="7" height="18"/>
<rect x="837" y="1402" width="15" height="13" fill="#fff" stroke="#222"/>
<path d="M837,1402L852,1415M852,1402L837,1415" stroke="#222" stroke-width="0.6"/>
<path class="dm" d="M837,1418V1448M852,1416V1448"/>
<line class="dm" x1="793" y1="1444" x2="837" y2="1444" marker-end="url(#ar)"/>
<line class="dm" x1="866" y1="1444" x2="852" y2="1444" marker-end="url(#ar)"/>
<text x="797" y="1440" class="bl" style="font-size:13px">LJ()</text>

<!-- LK drawing -->
<text x="808" y="1569" style="font-size:14px">固定侧</text>
<ellipse cx="740" cy="1591" rx="8" ry="9" fill="#eee" stroke="#222"/>
<path class="dm" d="M740,1600H772M732,1591V1635M735,1598V1635"/>
<line class="dm" x1="768" y1="1556" x2="768" y2="1592"/>
<line class="dm" x1="768" y1="1575" x2="768" y2="1592" marker-end="url(#ar)"/>
<line class="dm" x1="768" y1="1615" x2="768" y2="1600" marker-end="url(#ar)"/>
<g transform="translate(765,1582) rotate(-90)"><text x="0" y="0" style="font-size:13px">0.5</text></g>
<line class="dm" x1="718" y1="1631" x2="732" y2="1631" marker-end="url(#ar)"/>
<line class="dm" x1="771" y1="1631" x2="735" y2="1631" marker-end="url(#ar)"/>
<text x="750" y="1628" style="font-size:13px">0.5</text>
<path class="sh" d="M796,1578H830V1604H796C798,1596 793,1588 796,1578Z"/>
<line x1="811" y1="1578" x2="811" y2="1604" stroke="#222"/>
<rect class="sh" x="830" y="1581" width="7" height="19"/>
<rect x="837" y="1584" width="15" height="13" fill="#fff" stroke="#222"/>
<path d="M837,1584L852,1597M852,1584L837,1597" stroke="#222" stroke-width="0.6"/>
<path class="dm" d="M837,1601V1635M852,1598V1635"/>
<line class="dm" x1="790" y1="1631" x2="837" y2="1631" marker-end="url(#ar)"/>
<line class="dm" x1="866" y1="1631" x2="852" y2="1631" marker-end="url(#ar)"/>
<text x="796" y="1627" class="bl" style="font-size:13px">LK()</text>
<text x="748" y="1655" class="c bl" style="font-size:15px">LK</text>
<text x="721" y="1673" style="font-size:14px">位置90°</text>
</svg>
</body></html>
